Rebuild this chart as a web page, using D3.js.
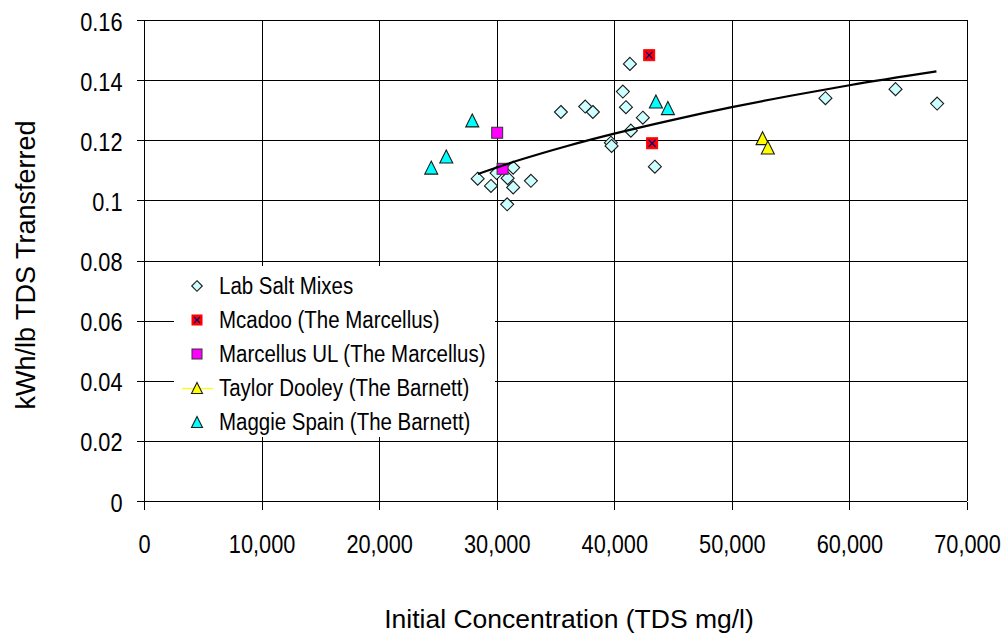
<!DOCTYPE html>
<html lang="en">
<head>
<meta charset="UTF-8" />
<title>kWh/lb TDS Transferred vs Initial Concentration</title>
<style>
  body { margin: 0; background: #fff; }
  svg text { font-family: "Liberation Sans", Arial, sans-serif; fill: #000; }
</style>
</head>
<body>
<svg id="chart" width="1003" height="635"></svg>
<script src="https://cdn.jsdelivr.net/npm/d3@7/dist/d3.min.js"></script>
<script>
// values
const labX = [28380, 29510, 29990, 30930, 31400, 30890, 31400, 32910, 35460, 37530, 38180, 39710, 39770, 40730, 40990, 41330, 41410, 42430, 43450, 57960, 63920, 67460];
const labY = [0.1072, 0.1048, 0.1091, 0.1074, 0.1109, 0.0987, 0.1043, 0.1065, 0.1294, 0.1312, 0.1294, 0.1192, 0.1181, 0.1362, 0.1310, 0.1454, 0.1232, 0.1275, 0.1112, 0.1340, 0.1370, 0.1322];
const mcadooX = [42970, 43220];
const mcadooY = [0.1483, 0.1190];
const ulX = [30040, 30500];
const ulY = [0.1225, 0.1105];
const taylorX = [52610, 53060];
const taylorY = [0.1207, 0.1176];
const maggieX = [27920, 25710, 24430, 43540, 44560];
const maggieY = [0.1266, 0.1146, 0.1109, 0.1329, 0.1307];
// trendline
const trendX = [28400, 32000, 36000, 40000, 45000, 50000, 55000, 60000, 67400];
const trendY = [0.1088, 0.1135, 0.1181, 0.1222, 0.1268, 0.1310, 0.1348, 0.1383, 0.1429];

const xTicks = [0, 10000, 20000, 30000, 40000, 50000, 60000, 70000];
const yTicks = [0, 0.02, 0.04, 0.06, 0.08, 0.1, 0.12, 0.14, 0.16];
const legendNames = ["Lab Salt Mixes", "Mcadoo (The Marcellus)", "Marcellus UL (The Marcellus)", "Taylor Dooley (The Barnett)", "Maggie Spain (The Barnett)"];

const svg = d3.select("#chart");
const plotLeft = 144, plotRight = 967, plotTop = 20, plotBottom = 501;

const x = d3.scaleLinear().domain([0, 70000]).range([plotLeft, plotRight]);
const y = d3.scaleLinear().domain([0, 0.16]).range([plotBottom, plotTop]);

// grid
const grid = svg.append("g").attr("shape-rendering", "crispEdges");
grid.selectAll(".hg").data(yTicks).join("line")
  .attr("x1", plotLeft).attr("x2", plotRight)
  .attr("y1", d => Math.round(y(d)) + 0.5).attr("y2", d => Math.round(y(d)) + 0.5)
  .attr("stroke", "#000");
grid.selectAll(".vg").data(xTicks).join("line")
  .attr("y1", plotTop).attr("y2", plotBottom)
  .attr("x1", d => Math.round(x(d)) + 0.5).attr("x2", d => Math.round(x(d)) + 0.5)
  .attr("stroke", "#000");

// axes
const xAxis = svg.append("g")
  .attr("transform", `translate(0,${plotBottom + 0.5})`)
  .call(d3.axisBottom(x).tickValues(xTicks).tickSize(8).tickPadding(0)
    .tickFormat(d => d === 0 ? "0" : d3.format(",")(d)));
xAxis.select(".domain").remove();
xAxis.selectAll("line").attr("stroke", "#000").attr("shape-rendering", "crispEdges");
xAxis.selectAll("text")
  .attr("y", 0).attr("dy", 0)
  .attr("transform", "translate(0,51) scale(0.87,1)")
  .style("font-size", "25px").attr("font-family", null);

const yAxis = svg.append("g")
  .attr("transform", `translate(${plotLeft + 0.5},0)`)
  .call(d3.axisLeft(y).tickValues(yTicks).tickSize(8).tickPadding(0)
    .tickFormat(d => d3.format("")(+d.toFixed(2))));
yAxis.select(".domain").remove();
yAxis.selectAll("line").attr("stroke", "#000").attr("shape-rendering", "crispEdges");
yAxis.selectAll("text")
  .attr("x", 0).attr("dy", 0)
  .attr("transform", "translate(-22,10) scale(0.87,1)")
  .style("font-size", "25px").attr("font-family", null);

// axis titles
svg.append("text")
  .attr("x", 569).attr("y", 628)
  .attr("text-anchor", "middle")
  .style("font-size", "26.5px")
  .text("Initial Concentration (TDS mg/l)");
svg.append("text")
  .attr("transform", `translate(35,265) rotate(-90)`)
  .attr("text-anchor", "middle")
  .style("font-size", "27px")
  .text("kWh/lb TDS Transferred");

// marker helpers
function diamond(g, cx, cy, r) {
  g.append("path")
    .attr("d", `M${cx},${cy - r}L${cx + r},${cy}L${cx},${cy + r}L${cx - r},${cy}Z`)
    .attr("fill", "#ccffff").attr("stroke", "#1a1a1a").attr("stroke-width", 1.1);
}
function square(g, cx, cy, s, fill, stroke) {
  g.append("rect")
    .attr("x", cx - s / 2).attr("y", cy - s / 2).attr("width", s).attr("height", s)
    .attr("fill", fill).attr("stroke", stroke).attr("stroke-width", 1);
}
function cross(g, cx, cy, s) {
  g.append("path")
    .attr("d", `M${cx - s},${cy - s}L${cx + s},${cy + s}M${cx - s},${cy + s}L${cx + s},${cy - s}`)
    .attr("stroke", "#000080").attr("stroke-width", 1.2);
}
function triangle(g, cx, cy, w, h, fill) {
  g.append("path")
    .attr("d", `M${cx},${cy - h / 2}L${cx + w / 2},${cy + h / 2}L${cx - w / 2},${cy + h / 2}Z`)
    .attr("fill", fill).attr("stroke", "#1a1a1a").attr("stroke-width", 1.1);
}

const marks = svg.append("g");
labX.forEach((v, i) => diamond(marks, x(v), y(labY[i]), 6.5));
mcadooX.forEach((v, i) => {
  square(marks, x(v), y(mcadooY[i]), 11, "#ff0000", "#ff0000");
  cross(marks, x(v), y(mcadooY[i]), 3.5);
});
ulX.forEach((v, i) => square(marks, x(v), y(ulY[i]), 11, "#ff00ff", "#333"));
taylorX.forEach((v, i) => triangle(marks, x(v), y(taylorY[i]), 13, 13, "#ffff00"));
maggieX.forEach((v, i) => triangle(marks, x(v), y(maggieY[i]), 13, 13, "#00ffff"));

// trendline
const line = d3.line().x(d => x(d[0])).y(d => y(d[1])).curve(d3.curveMonotoneX);
svg.append("path")
  .datum(trendX.map((v, i) => [v, trendY[i]]))
  .attr("d", line)
  .attr("fill", "none").attr("stroke", "#000").attr("stroke-width", 2.2);

// legend
const leg = svg.append("g");
leg.append("rect").attr("x", 174).attr("y", 266).attr("width", 321).attr("height", 171).attr("fill", "#fff");
const mx = 197, tx = 219;
legendNames.forEach((name, i) => {
  const cy = 286 + i * 34;
  if (i === 0) diamond(leg, mx, cy, 5.3);
  if (i === 1) { square(leg, mx, cy, 10, "#ff0000", "#ff0000"); cross(leg, mx, cy, 3); }
  if (i === 2) square(leg, mx, cy, 10, "#ff00ff", "#333");
  if (i === 3) {
    leg.append("line").attr("x1", 182).attr("x2", 213).attr("y1", cy + 0.5).attr("y2", cy + 0.5)
      .attr("stroke", "#ffff00").attr("stroke-width", 1.2);
    triangle(leg, mx, cy, 11, 11, "#ffff00");
  }
  if (i === 4) triangle(leg, mx, cy, 11, 11, "#00ffff");
  leg.append("text")
    .attr("transform", `translate(${tx},${cy + 8}) scale(0.89,1)`)
    .style("font-size", "23px")
    .text(name);
});
</script>
</body>
</html>
